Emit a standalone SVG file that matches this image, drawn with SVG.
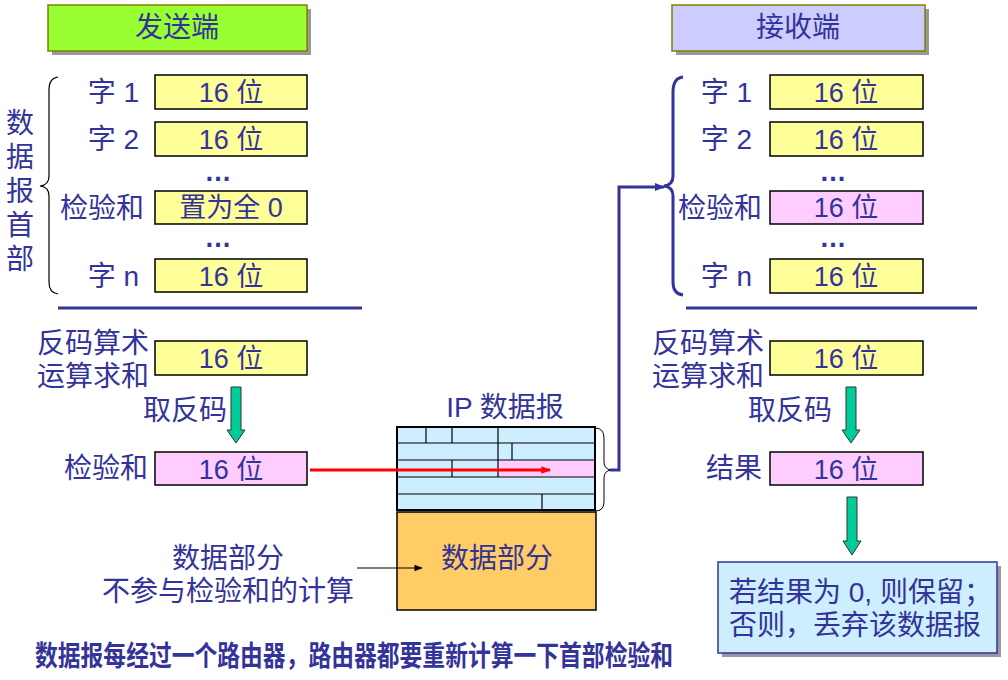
<svg xmlns="http://www.w3.org/2000/svg" width="1008" height="680" viewBox="0 0 1008 680">
<defs>
<style>
text{font-family:"Liberation Sans","Noto Sans CJK SC",sans-serif;fill:#333399;font-size:28px}
.c{text-anchor:middle}
.e{text-anchor:end}
.bx{font-size:27px;text-anchor:middle}
.y{fill:#ffff99;stroke:#000;stroke-width:1.5}
.p{fill:#ffccff;stroke:#000;stroke-width:1.5}
.g{fill:#00cc99;stroke:#333;stroke-width:1}
.dots{font-size:27px;font-weight:bold;text-anchor:middle}
.cell{fill:none;stroke:#000;stroke-width:1.2}
</style>
<marker id="ab" viewBox="0 0 10 10" refX="9" refY="5" markerWidth="3.5" markerHeight="3.5" orient="auto"><path d="M0,1 L10,5 L0,9 z" fill="#333399"/></marker>
<marker id="ar" viewBox="0 0 10 10" refX="9" refY="5" markerWidth="3.2" markerHeight="3.2" orient="auto"><path d="M0,1 L10,5 L0,9 z" fill="#ff0000"/></marker>
<marker id="ak" viewBox="0 0 10 10" refX="9" refY="5" markerWidth="7" markerHeight="7" orient="auto"><path d="M0,1 L10,5 L0,9 z" fill="#000"/></marker>
</defs>
<rect width="1008" height="680" fill="#fff"/>

<g id="sender-title">
<rect x="52" y="9" width="259" height="46" fill="#999"/>
<rect x="48" y="5" width="259" height="46" fill="#99ff33" stroke="#808000" stroke-width="1.5"/>
<text class="c" x="177" y="37" font-size="27">发送端</text>
</g>

<g id="receiver-title">
<rect x="676" y="9" width="253" height="46" fill="#999"/>
<rect x="672" y="5" width="253" height="46" fill="#ccccff" stroke="#808000" stroke-width="1.5"/>
<text class="c" x="798" y="37" font-size="27">接收端</text>
</g>

<g id="sender-header">
<text class="c" x="20" y="133" font-size="26">数</text>
<text class="c" x="20" y="167" font-size="26">据</text>
<text class="c" x="20" y="201" font-size="26">报</text>
<text class="c" x="20" y="235" font-size="26">首</text>
<text class="c" x="20" y="269" font-size="26">部</text>
<path d="M58,77 Q49,78 49,90 L49,176 Q49,185 40,186 Q49,187 49,196 L49,282 Q49,293 58,294" fill="none" stroke="#000" stroke-width="1.2"/>
<text class="e" x="139" y="102">字 1</text>
<rect class="y" x="155" y="75" width="152" height="34"/>
<text class="bx" x="231" y="102">16 位</text>
<text class="e" x="139" y="149">字 2</text>
<rect class="y" x="155" y="122" width="152" height="34"/>
<text class="bx" x="231" y="149">16 位</text>
<text class="dots" x="218" y="181">…</text>
<text class="e" x="144" y="218">检验和</text>
<rect class="y" x="155" y="191" width="152" height="33"/>
<text class="bx" x="231" y="217">置为全 0</text>
<text class="dots" x="218" y="247">…</text>
<text class="e" x="139" y="286">字 n</text>
<rect class="y" x="155" y="259" width="152" height="33"/>
<text class="bx" x="231" y="286">16 位</text>
<line x1="58" y1="308" x2="362" y2="308" stroke="#333399" stroke-width="3"/>
</g>

<g id="receiver-header">
<path d="M683,77 Q673,78 673,92 L673,176 Q673,185 664,186 Q673,187 673,196 L673,282 Q673,294 683,295" fill="none" stroke="#333399" stroke-width="3"/>
<text class="e" x="752" y="102">字 1</text>
<rect class="y" x="770" y="75" width="153" height="34"/>
<text class="bx" x="846" y="102">16 位</text>
<text class="e" x="752" y="149">字 2</text>
<rect class="y" x="770" y="122" width="153" height="34"/>
<text class="bx" x="846" y="149">16 位</text>
<text class="dots" x="833" y="181">…</text>
<text class="e" x="762" y="218">检验和</text>
<rect class="p" x="770" y="191" width="153" height="33"/>
<text class="bx" x="846" y="217">16 位</text>
<text class="dots" x="833" y="247">…</text>
<text class="e" x="752" y="286">字 n</text>
<rect class="y" x="770" y="259" width="153" height="34"/>
<text class="bx" x="846" y="286">16 位</text>
<line x1="686" y1="308" x2="977" y2="308" stroke="#333399" stroke-width="3"/>
</g>

<g id="sender-sum">
<text x="37" y="353">反码算术</text>
<text x="37" y="386">运算求和</text>
<rect class="y" x="155" y="341" width="152" height="34"/>
<text class="bx" x="231" y="368">16 位</text>
<path class="g" d="M231,387 L241,387 L241,430 L245,430 L236,443 L227,430 L231,430 Z"/>
<text class="e" x="227" y="420">取反码</text>
<text class="e" x="148" y="478">检验和</text>
<rect class="p" x="155" y="452" width="152" height="33"/>
<text class="bx" x="231" y="479">16 位</text>
</g>

<g id="ip-datagram">
<text class="c" x="505" y="417" font-size="27">IP 数据报</text>
<rect x="397" y="427" width="198" height="83" fill="#cceeff"/>
<rect x="498" y="460" width="97" height="17" fill="#ffccff"/>
<line class="cell" x1="397" y1="443" x2="595" y2="443"/>
<line class="cell" x1="397" y1="460" x2="595" y2="460"/>
<line class="cell" x1="397" y1="477" x2="595" y2="477"/>
<line class="cell" x1="397" y1="494" x2="595" y2="494"/>
<line class="cell" x1="426" y1="427" x2="426" y2="443"/>
<line class="cell" x1="452" y1="427" x2="452" y2="443"/>
<line class="cell" x1="498" y1="427" x2="498" y2="460"/>
<line class="cell" x1="512" y1="443" x2="512" y2="460"/>
<line class="cell" x1="452" y1="460" x2="452" y2="477"/>
<line class="cell" x1="498" y1="460" x2="498" y2="477"/>
<line class="cell" x1="542" y1="494" x2="542" y2="510"/>
<rect x="397" y="427" width="198" height="83" fill="none" stroke="#000" stroke-width="2"/>
<path d="M595,428 Q604,428 604,438 L604,462 Q604,469 611,470 Q604,471 604,478 L604,502 Q604,511 595,511" fill="none" stroke="#000" stroke-width="1"/>
</g>

<g id="data-part">
<rect x="397" y="512" width="199" height="98" fill="#ffcc66" stroke="#000" stroke-width="1.5"/>
<text class="c" x="497" y="568" font-size="27">数据部分</text>
</g>

<g id="data-note">
<text class="c" x="228" y="568">数据部分</text>
<text class="c" x="228" y="601">不参与检验和的计算</text>
</g>

<g id="receiver-sum">
<text x="652" y="353">反码算术</text>
<text x="652" y="386">运算求和</text>
<rect class="y" x="770" y="341" width="153" height="34"/>
<text class="bx" x="846" y="368">16 位</text>
<path class="g" d="M846,387 L856,387 L856,430 L860,430 L851,443 L842,430 L846,430 Z"/>
<text class="e" x="832" y="420">取反码</text>
<text class="e" x="762" y="478">结果</text>
<rect class="p" x="770" y="452" width="153" height="33"/>
<text class="bx" x="846" y="479">16 位</text>
<path class="g" d="M847,497 L857,497 L857,541 L861,541 L852,555 L843,541 L847,541 Z"/>
</g>

<g id="result-box">
<rect x="722" y="566" width="279" height="91" fill="#999"/>
<rect x="718" y="562" width="279" height="91" fill="#cceeff" stroke="#333399" stroke-width="1.5"/>
<text x="729" y="602">若结果为 0, 则保留；</text>
<text x="729" y="635">否则，丢弃该数据报</text>
</g>

<g id="footer">
<text x="35" y="666" font-size="22" font-weight="bold" textLength="638" lengthAdjust="spacingAndGlyphs">数据报每经过一个路由器，路由器都要重新计算一下首部检验和</text>
</g>

<g id="connectors">
<path d="M610,470 L619,470 L619,187 L664,187" fill="none" stroke="#333399" stroke-width="3" marker-end="url(#ab)"/>
<line x1="310" y1="470" x2="550" y2="470" stroke="#ff0000" stroke-width="3" marker-end="url(#ar)"/>
<line x1="357" y1="568" x2="422" y2="568" stroke="#000" stroke-width="1.2" marker-end="url(#ak)"/>
</g>
</svg>
